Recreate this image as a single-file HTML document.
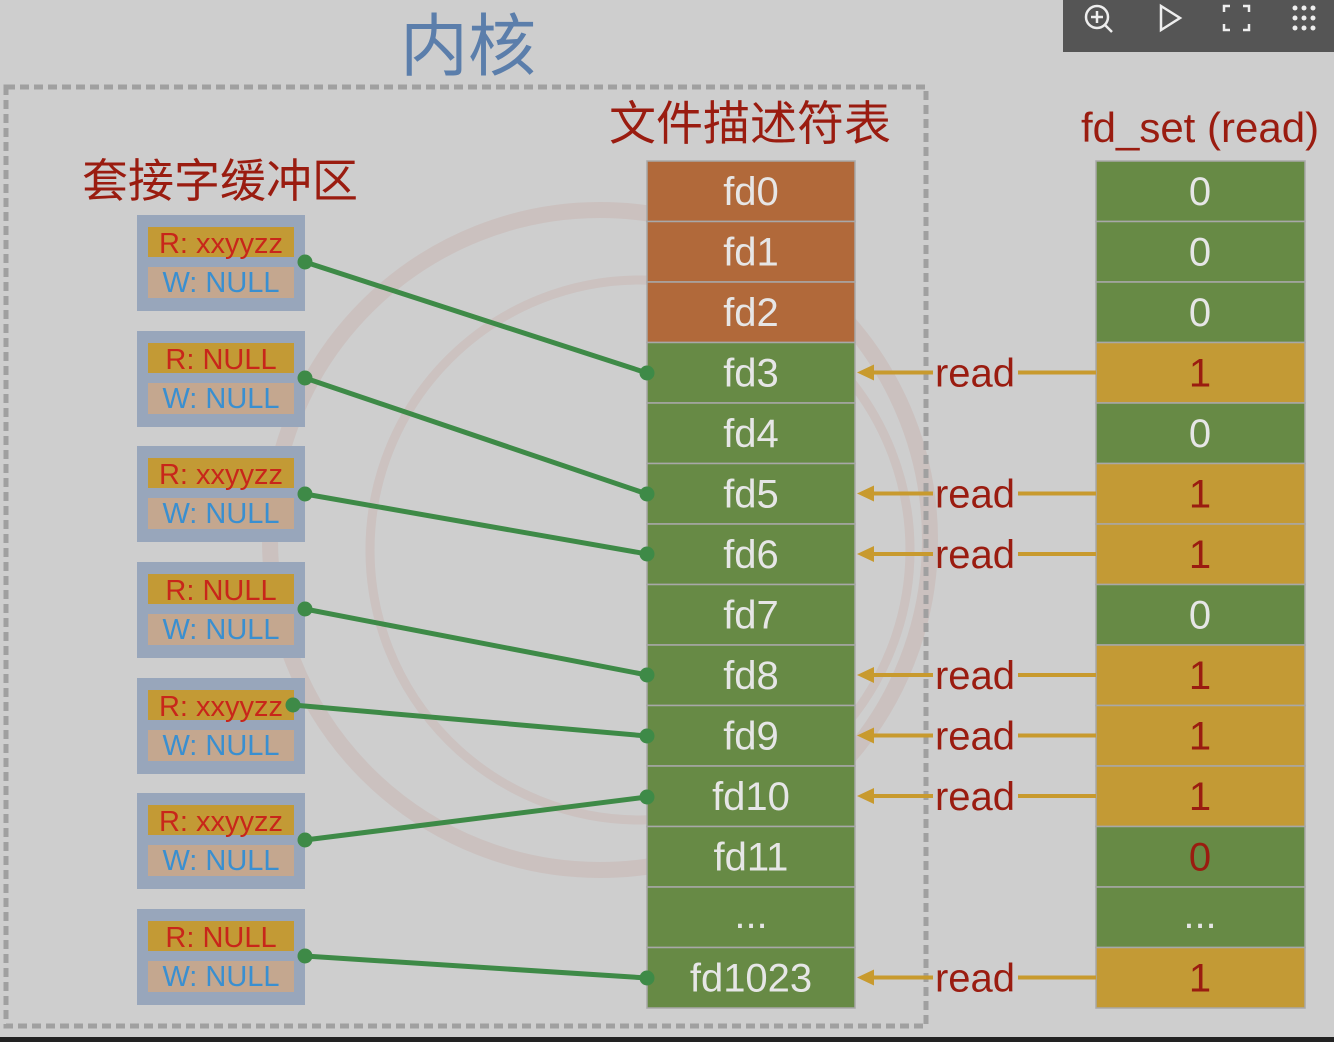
<!DOCTYPE html>
<html><head><meta charset="utf-8"><style>
html,body{margin:0;padding:0;background:#cecece;}
svg{display:block;}
text{font-family:"Liberation Sans","Noto Sans CJK SC",sans-serif;}
</style></head><body>
<svg width="1334" height="1042" viewBox="0 0 1334 1042" xmlns="http://www.w3.org/2000/svg">
<rect width="1334" height="1042" fill="#cecece"/>
<!-- watermark -->
<circle cx="600" cy="540" r="330" fill="none" stroke="#c9b6b2" stroke-width="16" opacity="0.55"/>
<circle cx="640" cy="550" r="270" fill="none" stroke="#c9b6b2" stroke-width="9" opacity="0.5"/>
<!-- toolbar -->
<rect x="1063" y="0" width="271" height="52" fill="#555"/>
<g fill="none" stroke="#eee" stroke-width="2.5">
<circle cx="1097" cy="17" r="11"/><line x1="1105" y1="25" x2="1112" y2="32"/><line x1="1091" y1="17" x2="1103" y2="17"/><line x1="1097" y1="11" x2="1097" y2="23"/>
<polygon points="1161,6 1180,18 1161,30"/>
<path d="M1224 12v-6h6M1243 6h6v6M1249 24v6h-6M1230 30h-6v-6"/>
</g>
<g fill="#eee"><circle cx="1295" cy="8" r="2.5"/><circle cx="1304" cy="8" r="2.5"/><circle cx="1313" cy="8" r="2.5"/><circle cx="1295" cy="18" r="2.5"/><circle cx="1304" cy="18" r="2.5"/><circle cx="1313" cy="18" r="2.5"/><circle cx="1295" cy="28" r="2.5"/><circle cx="1304" cy="28" r="2.5"/><circle cx="1313" cy="28" r="2.5"/></g>
<rect x="0" y="1037" width="1334" height="5" fill="#222"/>
<!-- dashed box -->
<rect x="6" y="87" width="920" height="939" fill="none" stroke="#a0a0a0" stroke-width="5" stroke-dasharray="9,5"/>
<!-- titles -->
<text x="468" y="70" font-size="68" fill="#5b7eab" text-anchor="middle">内核</text>
<text x="82" y="197" font-size="46" fill="#9a1c10">套接字缓冲区</text>
<text x="750" y="140" font-size="47" fill="#9a1c10" text-anchor="middle">文件描述符表</text>
<text x="1200" y="142" font-size="42" fill="#9a1c10" text-anchor="middle">fd_set (read)</text>
<!-- fd table -->
<g stroke="#a8a8a8" stroke-width="1.5">
<rect x="647" y="161" width="208" height="60.5" fill="#b1693a"/>
<rect x="647" y="221.5" width="208" height="60.5" fill="#b1693a"/>
<rect x="647" y="282" width="208" height="60.5" fill="#b1693a"/>
<rect x="647" y="342.5" width="208" height="60.5" fill="#678a45"/>
<rect x="647" y="403" width="208" height="60.5" fill="#678a45"/>
<rect x="647" y="463.5" width="208" height="60.5" fill="#678a45"/>
<rect x="647" y="524" width="208" height="60.5" fill="#678a45"/>
<rect x="647" y="584.5" width="208" height="60.5" fill="#678a45"/>
<rect x="647" y="645" width="208" height="60.5" fill="#678a45"/>
<rect x="647" y="705.5" width="208" height="60.5" fill="#678a45"/>
<rect x="647" y="766" width="208" height="60.5" fill="#678a45"/>
<rect x="647" y="826.5" width="208" height="60.5" fill="#678a45"/>
<rect x="647" y="887" width="208" height="60.5" fill="#678a45"/>
<rect x="647" y="947.5" width="208" height="60.5" fill="#678a45"/>
</g>
<g font-size="40" fill="#e6e6e6" text-anchor="middle">
<text x="751" y="205">fd0</text><text x="751" y="265.5">fd1</text><text x="751" y="326">fd2</text>
<text x="751" y="386.5">fd3</text><text x="751" y="447">fd4</text><text x="751" y="507.5">fd5</text>
<text x="751" y="568">fd6</text><text x="751" y="628.5">fd7</text><text x="751" y="689">fd8</text>
<text x="751" y="749.5">fd9</text><text x="751" y="810">fd10</text><text x="751" y="870.5">fd11</text>
<text x="751" y="928">...</text><text x="751" y="991.5">fd1023</text>
</g>
<!-- fd_set -->
<g stroke="#a8a8a8" stroke-width="1.5">
<rect x="1096" y="161" width="209" height="60.5" fill="#678a45"/>
<rect x="1096" y="221.5" width="209" height="60.5" fill="#678a45"/>
<rect x="1096" y="282" width="209" height="60.5" fill="#678a45"/>
<rect x="1096" y="342.5" width="209" height="60.5" fill="#c39a35"/>
<rect x="1096" y="403" width="209" height="60.5" fill="#678a45"/>
<rect x="1096" y="463.5" width="209" height="60.5" fill="#c39a35"/>
<rect x="1096" y="524" width="209" height="60.5" fill="#c39a35"/>
<rect x="1096" y="584.5" width="209" height="60.5" fill="#678a45"/>
<rect x="1096" y="645" width="209" height="60.5" fill="#c39a35"/>
<rect x="1096" y="705.5" width="209" height="60.5" fill="#c39a35"/>
<rect x="1096" y="766" width="209" height="60.5" fill="#c39a35"/>
<rect x="1096" y="826.5" width="209" height="60.5" fill="#678a45"/>
<rect x="1096" y="887" width="209" height="60.5" fill="#678a45"/>
<rect x="1096" y="947.5" width="209" height="60.5" fill="#c39a35"/>
</g>
<g font-size="40" text-anchor="middle">
<text x="1200" y="205" fill="#e6e6e6">0</text><text x="1200" y="265.5" fill="#e6e6e6">0</text><text x="1200" y="326" fill="#e6e6e6">0</text>
<text x="1200" y="386.5" fill="#9a1c10">1</text><text x="1200" y="447" fill="#e6e6e6">0</text><text x="1200" y="507.5" fill="#9a1c10">1</text>
<text x="1200" y="568" fill="#9a1c10">1</text><text x="1200" y="628.5" fill="#e6e6e6">0</text><text x="1200" y="689" fill="#9a1c10">1</text>
<text x="1200" y="749.5" fill="#9a1c10">1</text><text x="1200" y="810" fill="#9a1c10">1</text><text x="1200" y="870.5" fill="#9a1c10">0</text>
<text x="1200" y="928" fill="#e6e6e6">...</text><text x="1200" y="991.5" fill="#9a1c10">1</text>
</g>
<!-- read arrows -->
<defs><g id="rd">
<line x1="1018" y1="0" x2="1096" y2="0" stroke="#c89a2e" stroke-width="4"/>
<line x1="870" y1="0" x2="933" y2="0" stroke="#c89a2e" stroke-width="4"/>
<polygon points="857,0 874,-8 874,8" fill="#c89a2e"/>
<text x="975" y="14" font-size="40" fill="#9a1c10" text-anchor="middle">read</text>
</g></defs>
<use href="#rd" y="372.5"/><use href="#rd" y="493.5"/><use href="#rd" y="554"/>
<use href="#rd" y="675"/><use href="#rd" y="735.5"/><use href="#rd" y="796"/><use href="#rd" y="977.5"/>
<!-- sockets -->
<defs><g id="sk">
<rect x="137" y="0" width="168" height="96" fill="#98a6bb"/>
<rect x="148" y="12" width="146" height="30" fill="#c39a35"/>
<rect x="148" y="52" width="146" height="31" fill="#c4a78f"/>
<text x="221" y="77" font-size="29" fill="#3a8fd0" text-anchor="middle">W: NULL</text>
</g></defs>
<g font-size="29" fill="#c8261a" text-anchor="middle">
<use href="#sk" y="215"/><text x="221" y="253">R: xxyyzz</text>
<use href="#sk" y="331"/><text x="221" y="369">R: NULL</text>
<use href="#sk" y="446"/><text x="221" y="484">R: xxyyzz</text>
<use href="#sk" y="562"/><text x="221" y="600">R: NULL</text>
<use href="#sk" y="678"/><text x="221" y="716">R: xxyyzz</text>
<use href="#sk" y="793"/><text x="221" y="831">R: xxyyzz</text>
<use href="#sk" y="909"/><text x="221" y="947">R: NULL</text>
</g>
<!-- connectors -->
<g stroke="#3e8a47" stroke-width="5" fill="#3e8a47">
<line x1="305" y1="262" x2="647" y2="373"/>
<line x1="305" y1="378" x2="647" y2="494"/>
<line x1="305" y1="494" x2="647" y2="554"/>
<line x1="305" y1="609" x2="647" y2="675"/>
<line x1="293" y1="705" x2="647" y2="736"/>
<line x1="305" y1="840" x2="647" y2="797"/>
<line x1="305" y1="956" x2="647" y2="978"/>
</g>
<g fill="#3e8a47">
<circle cx="305" cy="262" r="7.5"/><circle cx="647" cy="373" r="7.5"/>
<circle cx="305" cy="378" r="7.5"/><circle cx="647" cy="494" r="7.5"/>
<circle cx="305" cy="494" r="7.5"/><circle cx="647" cy="554" r="7.5"/>
<circle cx="305" cy="609" r="7.5"/><circle cx="647" cy="675" r="7.5"/>
<circle cx="293" cy="705" r="7.5"/><circle cx="647" cy="736" r="7.5"/>
<circle cx="305" cy="840" r="7.5"/><circle cx="647" cy="797" r="7.5"/>
<circle cx="305" cy="956" r="7.5"/><circle cx="647" cy="978" r="7.5"/>
</g>
</svg>
</body></html>
